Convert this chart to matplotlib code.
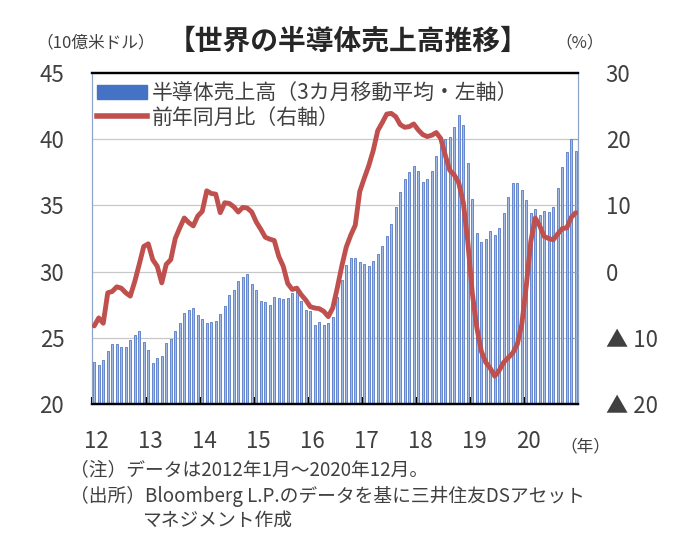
import numpy as np
import matplotlib
matplotlib.use("Agg")
import matplotlib.pyplot as plt
from matplotlib.patches import Patch
from matplotlib.lines import Line2D
from matplotlib.transforms import ScaledTranslation

plt.rcParams['font.family'] = ['Noto Sans CJK JP', 'DejaVu Sans']

# monthly, Jan 2012 .. Dec 2020
years = ["12", "13", "14", "15", "16", "17", "18", "19", "20"]

sales_2012 = [23.2, 22.95, 23.3, 24.0, 24.5, 24.5, 24.3, 24.3, 24.85, 25.2, 25.5, 24.7]
sales_2013 = [24.1, 23.1, 23.5, 23.6, 24.6, 24.9, 25.5, 26.1, 26.9, 27.1, 27.25, 26.7]
sales_2014 = [26.4, 26.1, 26.2, 26.3, 26.8, 27.4, 28.2, 28.6, 29.3, 29.6, 29.8, 29.1]
sales_2015 = [28.6, 27.8, 27.7, 27.5, 28.1, 28.0, 27.9, 28.0, 28.4, 28.5, 27.8, 27.1]
sales_2016 = [27.0, 26.0, 26.2, 26.0, 26.1, 26.6, 28.1, 29.4, 30.5, 31.0, 31.0, 30.7]
sales_2017 = [30.6, 30.4, 30.8, 31.3, 31.9, 32.7, 33.6, 34.9, 36.0, 37.0, 37.5, 38.0]
sales_2018 = [37.6, 36.8, 37.0, 37.6, 38.7, 39.5, 40.0, 40.2, 40.9, 41.8, 41.1, 38.2]
sales_2019 = [35.5, 32.9, 32.2, 32.5, 33.05, 32.8, 33.3, 34.4, 35.6, 36.7, 36.7, 36.2]
sales_2020 = [35.4, 34.4, 34.7, 34.3, 34.6, 34.5, 34.9, 36.3, 37.9, 39.0, 40.0, 39.1]

yoy_2012 = [-8.2, -7.0, -7.8, -3.2, -3.0, -2.3, -2.5, -3.2, -3.7, -1.5, 1.1, 3.8]
yoy_2013 = [4.2, 1.8, 0.8, -1.7, 1.1, 1.8, 5.0, 6.6, 8.1, 7.4, 6.9, 8.4]
yoy_2014 = [9.1, 12.2, 11.8, 11.7, 8.9, 10.4, 10.3, 9.8, 9.0, 9.7, 9.6, 9.0]
yoy_2015 = [7.5, 6.4, 5.2, 4.9, 4.7, 2.3, 0.8, -1.8, -2.7, -2.5, -3.5, -4.3]
yoy_2016 = [-5.3, -5.5, -5.6, -6.0, -6.8, -5.5, -2.5, 0.8, 3.7, 5.5, 7.0, 12.1]
yoy_2017 = [14.1, 16.0, 18.3, 21.3, 22.5, 23.8, 23.9, 23.4, 22.2, 21.8, 21.9, 22.3]
yoy_2018 = [21.4, 20.7, 20.4, 20.6, 21.0, 20.1, 17.6, 15.3, 14.6, 13.4, 10.5, 4.6]
yoy_2019 = [-3.2, -8.4, -12.0, -13.7, -14.6, -15.8, -14.9, -13.7, -13.0, -12.3, -11.0, -8.0]
yoy_2020 = [-2.2, 4.5, 8.1, 6.9, 5.3, 5.0, 4.8, 5.7, 6.5, 6.6, 8.2, 8.9]

sales = (sales_2012 + sales_2013 + sales_2014 + sales_2015 + sales_2016
         + sales_2017 + sales_2018 + sales_2019 + sales_2020)
yoy = (yoy_2012 + yoy_2013 + yoy_2014 + yoy_2015 + yoy_2016
       + yoy_2017 + yoy_2018 + yoy_2019 + yoy_2020)

left_ticks = [20, 25, 30, 35, 40, 45]
right_ticks = [-20, -10, 0, 10, 20, 30]
right_labels = ["▲ 20", "▲ 10", "0", "10", "20", "30"]

TXT = "#404040"
BAR = "#A3BBE3"
BAR_EDGE = "#5479C4"
LINE = "#C0504D"
SPINE = "#8EA3C8"

fig = plt.figure(figsize=(6.97, 5.56), dpi=100)
ax = fig.add_axes([92 / 697, 1 - 404 / 556, 486 / 697, 331 / 556])
ax2 = ax.twinx()

x = np.arange(len(sales))
ax.bar(x, sales, width=0.5, color=BAR, edgecolor=BAR_EDGE, linewidth=0.6, zorder=2)
ax.set_ylim(20, 45)
ax.set_xlim(-0.5, len(sales) - 0.5)
ax.set_yticks(left_ticks)
ax.set_yticklabels([str(v) for v in left_ticks], fontsize=16, color=TXT)
ax.tick_params(axis="y", length=0, pad=20)
for v in [25, 30, 35, 40]:
    ax.axhline(v, color="#C8C8C8", linewidth=0.9, zorder=1)

# year boundaries
bounds = np.arange(len(years)) * 12 - 0.5
ax.set_xticks(bounds)
ax.set_xticklabels(years, fontsize=16, color=TXT)
ax.tick_params(axis="x", direction="in", length=5, width=1.5, color="black", pad=19)
for lab in ax.get_xticklabels():
    lab.set_horizontalalignment("left")
    lab.set_transform(lab.get_transform() + ScaledTranslation(-8 / 100, 0, fig.dpi_scale_trans))

ax2.plot(x, yoy, color=LINE, linewidth=3.5, solid_capstyle="round", zorder=3)
ax2.set_ylim(-20, 30)
ax2.set_yticks(right_ticks)
ax2.set_yticklabels(right_labels, fontsize=16, color=TXT, ha="left")
ax2.tick_params(axis="y", direction="in", length=4, color=SPINE, pad=20)

for a in (ax, ax2):
    a.spines["top"].set_color("black")
    a.spines["top"].set_linewidth(1.6)
    a.spines["bottom"].set_color("black")
    a.spines["bottom"].set_linewidth(1.6)
    a.spines["left"].set_color(SPINE)
    a.spines["right"].set_color(SPINE)
    a.spines["left"].set_linewidth(0.8)
    a.spines["right"].set_linewidth(0.8)

handles = [Patch(facecolor="#4472C4", edgecolor="#4472C4"),
           Line2D([0], [0], color=LINE, linewidth=4)]
labels = ["半導体売上高（3カ月移動平均・左軸）", "前年同月比（右軸）"]
ax2.legend(handles, labels, loc="upper left", bbox_to_anchor=(-0.01, 1.0),
           frameon=False, fontsize=15, labelcolor=TXT, handlelength=2.4,
           handletextpad=0.25, labelspacing=0.1, borderaxespad=0.05)

fig.text(348 / 697, 1 - 42 / 556, "【世界の半導体売上高推移】", ha="center", va="center",
         fontsize=20, fontweight="bold", color="#262626")
fig.text(36 / 697, 1 - 43 / 556, "（10億米ドル）", ha="left", va="center",
         fontsize=12, color=TXT)
fig.text(555 / 697, 1 - 43 / 556, "（%）", ha="left", va="center",
         fontsize=12, color=TXT)
fig.text(560 / 697, 1 - 447 / 556, "（年）", ha="left", va="center",
         fontsize=12, color=TXT)

fig.text(70 / 697, 1 - 470 / 556, "（注）データは2012年1月～2020年12月。", ha="left",
         va="center", fontsize=13.5, color=TXT)
fig.text(70 / 697, 1 - 496 / 556, "（出所）Bloomberg L.P.のデータを基に三井住友DSアセット",
         ha="left", va="center", fontsize=13.5, color=TXT)
fig.text(142 / 697, 1 - 520 / 556, "マネジメント作成", ha="left", va="center",
         fontsize=13.5, color=TXT)

fig.savefig("out.png", dpi=100, facecolor="white")
